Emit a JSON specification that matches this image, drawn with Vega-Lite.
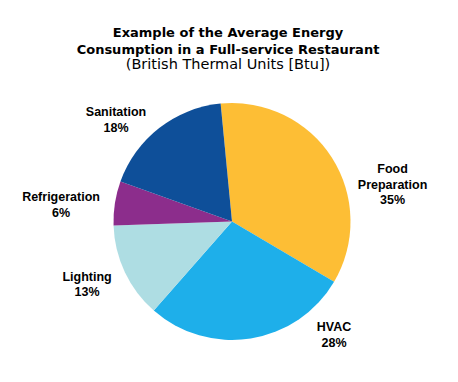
{
  "$schema": "https://vega.github.io/schema/vega-lite/v6.json",
  "width": 458,
  "height": 302,
  "autosize": "none",
  "padding": {"top": 80, "left": 0, "right": 0, "bottom": 0},
  "background": "white",
  "title": {
    "text": ["Example of the Average Energy", "Consumption in a Full-service Restaurant"],
    "subtitle": "(British Thermal Units [Btu])",
    "font": "DejaVu Sans",
    "fontSize": 13,
    "fontWeight": "bold",
    "lineHeight": 16.5,
    "color": "black",
    "subtitleFont": "DejaVu Sans",
    "subtitleFontSize": 14.5,
    "subtitleFontWeight": "normal",
    "subtitleColor": "black",
    "subtitlePadding": 1,
    "anchor": "middle",
    "dx": -1,
    "offset": 9
  },
  "data": {
    "values": [
      {"category": "Food Preparation", "value": 35, "order": 1, "label": "Food\nPreparation\n35%"},
      {"category": "HVAC", "value": 28, "order": 2, "label": "HVAC\n28%"},
      {"category": "Lighting", "value": 13, "order": 3, "label": "Lighting\n13%"},
      {"category": "Refrigeration", "value": 6, "order": 4, "label": "Refrigeration\n6%"},
      {"category": "Sanitation", "value": 18, "order": 5, "label": "Sanitation\n18%"}
    ]
  },
  "encoding": {
    "theta": {"field": "value", "type": "quantitative", "stack": true, "scale": {"range": [-0.096, 6.187]}},
    "order": {"field": "order", "type": "quantitative"}
  },
  "layer": [
    {
      "mark": {"type": "arc", "radius": 118.5, "x": 232, "y": 141.5},
      "encoding": {
        "color": {
          "field": "category",
          "type": "nominal",
          "legend": null,
          "scale": {
            "domain": ["Food Preparation", "HVAC", "Lighting", "Refrigeration", "Sanitation"],
            "range": ["#FDBE35", "#1EAFEA", "#AEDDE3", "#8C2D8C", "#0E4F99"]
          }
        }
      }
    },
    {
      "mark": {
        "type": "text",
        "radius": 160,
        "x": 232,
        "y": 141.5,
        "font": "Liberation Sans",
        "fontSize": 12.5,
        "fontWeight": "bold",
        "color": "black",
        "lineBreak": "\n",
        "lineHeight": 15.5,
        "align": "center",
        "baseline": "middle",
        "dx": {"expr": "datum.category == 'Food Preparation' ? 25.6 : datum.category == 'HVAC' ? 76.7 : datum.category == 'Lighting' ? -0.3 : datum.category == 'Refrigeration' ? -12.9 : -17.7"},
        "dy": {"expr": "datum.category == 'Food Preparation' ? 33.5 : datum.category == 'HVAC' ? -52 : datum.category == 'Lighting' ? -13 : datum.category == 'Refrigeration' ? 0.25 : 16.75"}
      },
      "encoding": {
        "text": {"field": "label"}
      }
    }
  ]
}
